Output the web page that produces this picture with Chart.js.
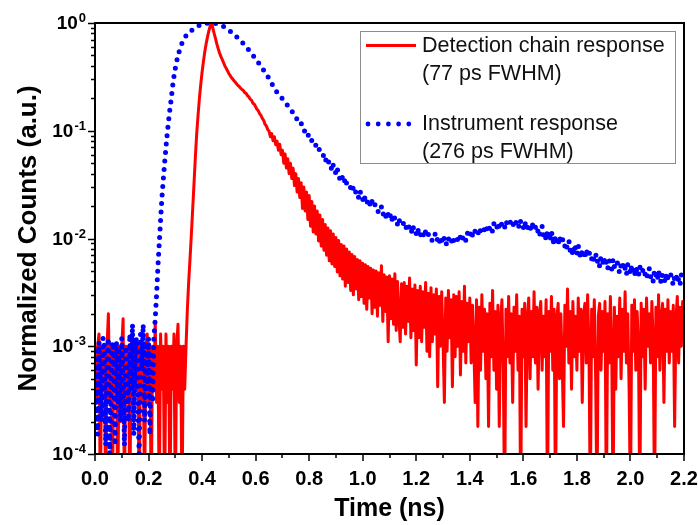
<!DOCTYPE html>
<html>
<head>
<meta charset="utf-8">
<script src="https://cdn.jsdelivr.net/npm/chart.js@4.4.0/dist/chart.umd.min.js"></script>
<style>
  html, body { margin: 0; padding: 0; background: #fff; }
  #chart { display: block; }
</style>
</head>
<body>
<canvas id="chart" width="698" height="525"></canvas>
<script>
// sampling grids (ns between points)
var redStep = 0.005;
var blueStep = 0.005;

var seriesNames = ['Detection chain response', 'Instrument response'];
var seriesNotes = ['(77 ps FWHM)', '(276 ps FWHM)'];

// detection chain response, one value every 5 ps from 0 to 2.2 ns
var redCounts = [
  0.001, 0.0003, 0.001, 0.0013, 0.00003, 0.001, 0.0004, 0.001, 0.00003, 0.001,
  0.002, 0.0003, 0.001, 0.00003, 0.001, 0.0004, 0.001, 0.00003, 0.001, 0.0002,
  0.001, 0.0018, 0.00003, 0.001, 0.0003, 0.001, 0.00003, 0.001, 0.0013, 0.0002,
  0.001, 0.0004, 0.001, 0.00003, 0.001, 0.0003, 0.001, 0.00003, 0.001, 0.0013,
  0.0003, 0.001, 0.00003, 0.001, 0.0004, 0.0017, 0.0003, 0.001, 0.00003, 0.0013,
  0.0004, 0.001, 0.00003, 0.0013, 0.0003, 0.001, 0.00003, 0.001, 0.0004, 0.0013,
  0.00003, 0.001, 0.0016, 0.0003, 0.001, 0.00003, 0.001, 0.0004, 0.001, 0.0022,
  0.004, 0.0065, 0.011, 0.019, 0.033, 0.058, 0.095, 0.14, 0.2, 0.27,
  0.35, 0.44, 0.54, 0.64, 0.74, 0.84, 0.93, 1.0, 0.9, 0.8,
  0.72, 0.64, 0.58, 0.53, 0.49, 0.46, 0.43, 0.40, 0.38, 0.36,
  0.34, 0.325, 0.31, 0.30, 0.29, 0.28, 0.27, 0.262, 0.255, 0.247,
  0.24, 0.235, 0.225, 0.221, 0.211, 0.206, 0.196, 0.191, 0.18, 0.176,
  0.167, 0.158, 0.153, 0.144, 0.139, 0.13, 0.125, 0.115, 0.111, 0.103,
  0.099, 0.088, 0.094, 0.081, 0.088, 0.074, 0.08, 0.066, 0.075, 0.06,
  0.066, 0.05, 0.061, 0.045, 0.055, 0.04, 0.05, 0.036, 0.045, 0.031,
  0.04, 0.027, 0.036, 0.024, 0.033, 0.019, 0.03, 0.018, 0.027, 0.015,
  0.025, 0.013, 0.022, 0.0115, 0.02, 0.011, 0.018, 0.0095, 0.0165, 0.0085,
  0.015, 0.0078, 0.0135, 0.007, 0.0125, 0.0062, 0.0118, 0.0058, 0.011, 0.0055,
  0.0102, 0.0049, 0.0096, 0.0045, 0.0088, 0.0042, 0.0085, 0.0036, 0.008, 0.0039,
  0.0075, 0.0033, 0.0071, 0.003, 0.0068, 0.0034, 0.0064, 0.0027, 0.0062, 0.0029,
  0.0059, 0.0025, 0.0057, 0.0022, 0.0055, 0.0028, 0.0053, 0.002, 0.0051, 0.0023,
  0.005, 0.0019, 0.0048, 0.0024, 0.0056, 0.0017, 0.0046, 0.0021, 0.0044, 0.0011,
  0.0045, 0.0018, 0.0042, 0.0016, 0.0047, 0.0014, 0.004, 0.0019, 0.0011, 0.0038,
  0.0015, 0.0039, 0.0013, 0.0036, 0.0017, 0.0043, 0.0012, 0.0034, 0.0014, 0.0037,
  0.00067, 0.0033, 0.0012, 0.0036, 0.0011, 0.0032, 0.0015, 0.0039, 0.0009, 0.0031,
  0.0008, 0.0035, 0.0011, 0.003, 0.0013, 0.0034, 0.00042, 0.0029, 0.001, 0.0032,
  0.0011, 0.0003, 0.0028, 0.0009, 0.0033, 0.0012, 0.0027, 0.00042, 0.003, 0.0008,
  0.0029, 0.001, 0.0032, 0.00054, 0.0026, 0.0009, 0.0036, 0.0007, 0.0025, 0.0011,
  0.0028, 0.0007, 0.0024, 0.001, 0.0003, 0.0027, 0.00018, 0.0023, 0.0006, 0.003,
  0.0009, 0.0022, 0.0005, 0.002, 0.00018, 0.0025, 0.0008, 0.0033, 0.0006, 0.0021,
  0.0004, 0.0024, 0.00018, 0.0018, 0.0027, 0.0006, 0.00003, 0.0022, 0.0008, 0.0029,
  0.0007, 0.002, 0.0003, 0.0023, 0.0009, 0.003, 0.0006, 0.0019, 0.00003, 0.0022,
  0.0008, 0.0025, 0.00018, 0.0018, 0.0028, 0.0005, 0.0021, 0.0008, 0.0032, 0.0007,
  0.0023, 0.0004, 0.002, 0.0026, 0.0006, 0.0019, 0.0008, 0.0027, 0.00003, 0.0021,
  0.0009, 0.0029, 0.0006, 0.0022, 0.00003, 0.0018, 0.0025, 0.0005, 0.002, 0.0007,
  0.00018, 0.0024, 0.001, 0.0034, 0.0007, 0.0021, 0.0004, 0.0026, 0.0008, 0.0019,
  0.0006, 0.0028, 0.0009, 0.0022, 0.0003, 0.002, 0.0025, 0.0007, 0.003, 0.001,
  0.00003, 0.0022, 0.0008, 0.0027, 0.0005, 0.00003, 0.0019, 0.0025, 0.0006, 0.0021,
  0.0009, 0.0026, 0.00003, 0.002, 0.0007, 0.0029, 0.001, 0.00003, 0.0023, 0.0004,
  0.0019, 0.0008, 0.0028, 0.0005, 0.0022, 0.0009, 0.0032, 0.0007, 0.002, 0.0004,
  0.00003, 0.0024, 0.0009, 0.0027, 0.0006, 0.0021, 0.001, 0.00003, 0.0025, 0.0008,
  0.0022, 0.0004, 0.0028, 0.001, 0.002, 0.0007, 0.0026, 0.0011, 0.00003, 0.0023,
  0.0008, 0.003, 0.0006, 0.0019, 0.0025, 0.0003, 0.0022, 0.0009, 0.0027, 0.0007,
  0.0021, 0.0009, 0.0024, 0.00018, 0.0018, 0.0029, 0.0007, 0.0023, 0.001, 0.0026,
  0.0012
];

// instrument response, one value every 5 ps from 0 to 2.2 ns
var blueCounts = [
  0.0009, 0.0003, 0.00015, 0.0011, 0.0005, 0.0002, 0.0012, 0.001, 0.00012, 0.0007,
  0.0012, 0.0001, 0.0004, 0.0011, 0.0008, 0.00012, 0.0011, 0.0003, 0.0009, 0.0002,
  0.0012, 0.0005, 0.00012, 0.001, 0.0007, 0.0002, 0.0013, 0.0004, 0.0016, 0.00015,
  0.0009, 0.0012, 0.0003, 0.0001, 0.0013, 0.0006, 0.0016, 0.0002, 0.0011, 0.0004,
  0.0012, 0.00015, 0.0009, 0.0003, 0.0012, 0.0018, 0.003, 0.0055, 0.009, 0.015,
  0.024, 0.035, 0.05, 0.07, 0.095, 0.125, 0.16, 0.2, 0.26, 0.32,
  0.38, 0.44, 0.5, 0.55, 0.6, 0.65, 0.69, 0.73, 0.76, 0.79,
  0.81, 0.83, 0.85, 0.87, 0.89, 0.905, 0.92, 0.935, 0.95, 0.96,
  0.97, 0.98, 0.985, 0.99, 0.995, 1.0, 1.0, 1.0, 1.0, 0.995,
  0.99, 0.98, 0.97, 0.96, 0.95, 0.94, 0.93, 0.91, 0.895, 0.875,
  0.86, 0.84, 0.82, 0.8, 0.78, 0.76, 0.74, 0.72, 0.7, 0.68,
  0.66, 0.64, 0.62, 0.6, 0.58, 0.56, 0.54, 0.52, 0.5, 0.485,
  0.47, 0.45, 0.43, 0.415, 0.4, 0.38, 0.365, 0.35, 0.335, 0.32,
  0.305, 0.29, 0.275, 0.262, 0.25, 0.238, 0.227, 0.219, 0.212, 0.205,
  0.198, 0.19, 0.184, 0.177, 0.171, 0.164, 0.158, 0.152, 0.146, 0.14,
  0.138, 0.126, 0.118, 0.12, 0.118, 0.105, 0.104, 0.0955, 0.099, 0.093,
  0.0863, 0.0884, 0.0804, 0.0758, 0.0779, 0.073, 0.0676, 0.0702, 0.0644, 0.0634,
  0.0636, 0.0563, 0.0515, 0.0562, 0.0567, 0.0475, 0.048, 0.0423, 0.0482, 0.0444,
  0.0395, 0.0443, 0.0384, 0.0354, 0.0389, 0.036, 0.0326, 0.0367, 0.0323, 0.033,
  0.0329, 0.0293, 0.0271, 0.03, 0.0305, 0.0259, 0.0266, 0.0237, 0.0273, 0.0254,
  0.0228, 0.0256, 0.0223, 0.0209, 0.0233, 0.0217, 0.0197, 0.0224, 0.0199, 0.0205,
  0.0207, 0.0185, 0.0172, 0.019, 0.0196, 0.0167, 0.0173, 0.0155, 0.0179, 0.0167,
  0.0151, 0.0171, 0.0149, 0.014, 0.0158, 0.0147, 0.0135, 0.0153, 0.0137, 0.0141,
  0.0143, 0.0129, 0.0121, 0.0134, 0.0138, 0.0119, 0.0124, 0.0111, 0.0129, 0.0121,
  0.0111, 0.0125, 0.011, 0.0104, 0.0118, 0.0111, 0.0102, 0.0117, 0.0105, 0.0109,
  0.0111, 0.0101, 0.0095, 0.0106, 0.011, 0.0095, 0.0099, 0.0089, 0.0104, 0.0098,
  0.009, 0.0103, 0.0091, 0.0087, 0.01, 0.0095, 0.0089, 0.0104, 0.0095, 0.01,
  0.0104, 0.0096, 0.0092, 0.0105, 0.0111, 0.0098, 0.0104, 0.0096, 0.0113, 0.0109,
  0.0102, 0.0119, 0.0107, 0.0103, 0.0119, 0.0115, 0.0108, 0.0126, 0.0116, 0.0123,
  0.0127, 0.0117, 0.0112, 0.0128, 0.0135, 0.0119, 0.0126, 0.0116, 0.0137, 0.0132,
  0.0122, 0.0141, 0.0127, 0.0122, 0.0141, 0.0134, 0.0126, 0.0146, 0.0133, 0.014,
  0.0145, 0.0133, 0.0127, 0.0144, 0.015, 0.0131, 0.0137, 0.0125, 0.0146, 0.0138,
  0.0126, 0.0144, 0.0127, 0.0121, 0.0137, 0.0128, 0.0118, 0.0136, 0.0122, 0.0127,
  0.0133, 0.0114, 0.0104, 0.0123, 0.013, 0.0106, 0.0112, 0.0097, 0.012, 0.011,
  0.0096, 0.0116, 0.0098, 0.0088, 0.0106, 0.0097, 0.0086, 0.0105, 0.009, 0.0096,
  0.0099, 0.0085, 0.0077, 0.009, 0.0096, 0.0077, 0.0082, 0.007, 0.0088, 0.0081,
  0.0071, 0.0086, 0.0073, 0.0066, 0.0079, 0.0073, 0.0065, 0.008, 0.0068, 0.0072,
  0.0075, 0.0065, 0.0059, 0.0069, 0.0073, 0.006, 0.0064, 0.0055, 0.0068, 0.0064,
  0.0056, 0.0067, 0.0058, 0.0052, 0.0063, 0.0058, 0.0052, 0.0064, 0.0055, 0.0058,
  0.0062, 0.0052, 0.0048, 0.0057, 0.0061, 0.005, 0.0053, 0.0046, 0.0058, 0.0054,
  0.0047, 0.0057, 0.0049, 0.0045, 0.0054, 0.005, 0.0045, 0.0055, 0.0048, 0.005,
  0.0053, 0.0046, 0.0042, 0.0049, 0.0053, 0.0044, 0.0046, 0.004, 0.0051, 0.0046,
  0.0041, 0.005, 0.0042, 0.0039, 0.0047, 0.0043, 0.0039, 0.0048, 0.0042, 0.0045,
  0.0047, 0.0041, 0.0037, 0.0044, 0.0047, 0.0039, 0.0042, 0.0037, 0.0046, 0.0043,
  0.0041
];

var xTickValues = [0, 0.2, 0.4, 0.6, 0.8, 1.0, 1.2, 1.4, 1.6, 1.8, 2.0, 2.2];
var xTickLabels = ['0.0', '0.2', '0.4', '0.6', '0.8', '1.0', '1.2', '1.4', '1.6', '1.8', '2.0', '2.2'];
var yTickValues = [1e-4, 1e-3, 1e-2, 1e-1, 1];
var yTickExponents = ['-4', '-3', '-2', '-1', '0'];

function toPoints(values, step) {
  return values.map(function (v, i) {
    return { x: +(i * step).toFixed(3), y: v };
  });
}

var FONT = '"Liberation Sans", Arial, sans-serif';

// frame, ticks, tick labels and the legend box
var decorPlugin = {
  id: 'decor',
  afterDatasetsDraw: function (chart) {
    var ctx = chart.ctx;
    var a = chart.chartArea;
    var x = chart.scales.x;
    var y = chart.scales.y;
    ctx.save();

    // ticks
    ctx.strokeStyle = '#000';
    ctx.lineWidth = 1.5;
    ctx.beginPath();
    for (var i = 0; i <= 22; i++) {
      var px = Math.round(x.getPixelForValue(i / 10));
      var len = i % 2 === 0 ? 7 : 4;
      ctx.moveTo(px, a.bottom);
      ctx.lineTo(px, a.bottom + len);
    }
    for (var e = -4; e <= 0; e++) {
      for (var m = 1; m <= 9; m++) {
        if (e === 0 && m > 1) break;
        var py = Math.round(y.getPixelForValue(m * Math.pow(10, e))) + 0.5;
        var l = m === 1 ? 7 : 4;
        ctx.moveTo(a.left, py);
        ctx.lineTo(a.left - l, py);
      }
    }
    ctx.stroke();

    // frame
    ctx.lineWidth = 2;
    ctx.strokeRect(a.left, a.top, a.right - a.left, a.bottom - a.top);

    // x tick labels
    ctx.fillStyle = '#000';
    ctx.font = 'bold 20px ' + FONT;
    ctx.textAlign = 'center';
    ctx.textBaseline = 'alphabetic';
    xTickValues.forEach(function (v, k) {
      ctx.fillText(xTickLabels[k], x.getPixelForValue(v), a.bottom + 31);
    });

    // y tick labels: 10 with superscript exponent
    ctx.textAlign = 'right';
    yTickValues.forEach(function (v, k) {
      var py = y.getPixelForValue(v);
      var right = a.left - 9;
      ctx.font = 'bold 13px ' + FONT;
      var w = ctx.measureText(yTickExponents[k]).width;
      ctx.fillText(yTickExponents[k], right, py - 1);
      ctx.font = 'bold 19px ' + FONT;
      ctx.fillText('10', right - w - 1, py + 6);
    });

    // legend
    var bx = 360, by = 31, bw = 315, bh = 132;
    ctx.fillStyle = '#fff';
    ctx.fillRect(bx, by, bw, bh);
    ctx.strokeStyle = '#8c8c8c';
    ctx.lineWidth = 1;
    ctx.strokeRect(bx + 0.5, by + 0.5, bw, bh);

    var sets = chart.data.datasets;
    ctx.strokeStyle = sets[0].borderColor;
    ctx.lineWidth = 3;
    ctx.beginPath();
    ctx.moveTo(366, 45.5);
    ctx.lineTo(416, 45.5);
    ctx.stroke();

    ctx.fillStyle = sets[1].borderColor;
    for (var d = 0; d < 5; d++) {
      ctx.beginPath();
      ctx.arc(368 + d * 10.2, 124, 2.4, 0, Math.PI * 2);
      ctx.fill();
    }

    ctx.fillStyle = '#111';
    ctx.font = '21.5px ' + FONT;
    ctx.textAlign = 'left';
    ctx.textBaseline = 'middle';
    ctx.fillText(seriesNames[0], 422, 46);
    ctx.fillText(seriesNotes[0], 422, 74);
    ctx.fillText(seriesNames[1], 422, 124);
    ctx.fillText(seriesNotes[1], 422, 152);

    ctx.restore();
  }
};

new Chart(document.getElementById('chart'), {
  type: 'line',
  data: {
    datasets: [{
      label: seriesNames[0],
      data: toPoints(redCounts, redStep),
      borderColor: '#ff0000',
      borderWidth: 3,
      borderJoinStyle: 'round',
      pointRadius: 0,
      order: 1
    }, {
      label: seriesNames[1],
      data: toPoints(blueCounts, blueStep),
      borderColor: '#0000ff',
      borderWidth: 5,
      borderCapStyle: 'round',
      borderDash: [0, 8.5],
      pointRadius: 0,
      order: 0
    }]
  },
  options: {
    responsive: false,
    animation: false,
    devicePixelRatio: 1,
    layout: { padding: { top: 23, right: 14, left: 0, bottom: 0 } },
    plugins: {
      legend: { display: false },
      tooltip: { enabled: false }
    },
    scales: {
      x: {
        type: 'linear',
        min: 0,
        max: 2.2,
        grid: { display: false },
        border: { display: false },
        ticks: { display: false },
        title: {
          display: true,
          text: 'Time (ns)',
          color: '#000',
          font: { family: FONT, size: 25, weight: 'bold' },
          padding: { top: 0, bottom: 1 }
        },
        afterFit: function (s) { s.height = 71; }
      },
      y: {
        type: 'logarithmic',
        min: 1e-4,
        max: 1,
        grid: { display: false },
        border: { display: false },
        ticks: { display: false },
        title: {
          display: true,
          text: 'Normalized Counts (a.u.)',
          color: '#000',
          font: { family: FONT, size: 26, weight: 'bold' },
          padding: { top: 13, bottom: 0 }
        },
        afterFit: function (s) { s.width = 95; }
      }
    }
  },
  plugins: [decorPlugin]
});
</script>
</body>
</html>
